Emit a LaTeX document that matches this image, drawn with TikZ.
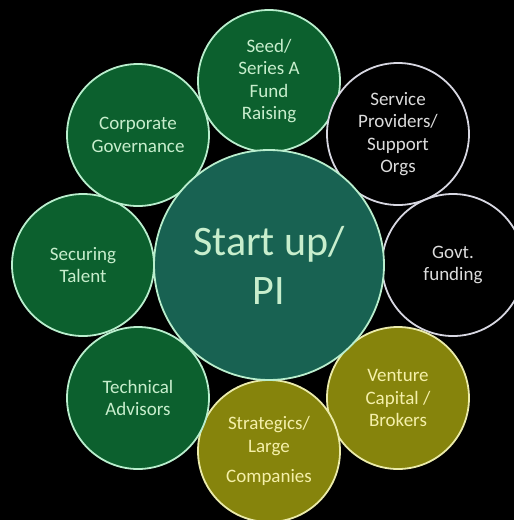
\documentclass[tikz,border=0pt]{standalone}
\usepackage{fontspec}
\setmainfont{Carlito}
\usepackage{tikz}

\definecolor{hubteal}{RGB}{24,98,82}
\definecolor{leafgreen}{RGB}{12,96,46}
\definecolor{leafolive}{RGB}{134,132,12}
\definecolor{rimmint}{RGB}{185,238,205}
\definecolor{rimgray}{RGB}{215,215,225}
\definecolor{rimyellow}{RGB}{235,235,170}
\definecolor{textmint}{RGB}{200,238,205}
\definecolor{textgray}{RGB}{220,220,220}
\definecolor{textyellow}{RGB}{245,240,170}

\begin{document}
\begin{tikzpicture}[x=1pt,y=-1pt,
    bubble/.style={circle,minimum size=142pt,inner sep=0pt,line width=1.8pt,
      align=center,font=\fontsize{19}{22.5}\selectfont},
    greenbubble/.style={bubble,fill=leafgreen,draw=rimmint,text=textmint},
    darkbubble/.style={bubble,fill=black,draw=rimgray,text=textgray},
    olivebubble/.style={bubble,fill=leafolive,draw=rimyellow,text=textyellow}]
    \fill[black] (0,0) rectangle (514,520);
    \useasboundingbox (0,0) rectangle (514,520);
    % outer ring of bubbles
    \node[greenbubble] (seed) at (269,81) {Seed/\\Series A\\Fund\\Raising};
    \node[darkbubble] (service) at (398,134) {Service\\Providers/\\Support\\Orgs};
    \node[darkbubble] (govt) at (453,265) {Govt.\\funding};
    \node[olivebubble] (venture) at (398,398) {Venture\\Capital /\\Brokers};
    \node[olivebubble] (strategics) at (269,451) {Strategics/\\Large\\[8pt]Companies};
    \node[greenbubble] (technical) at (138,398) {Technical\\Advisors};
    \node[greenbubble] (talent) at (83,265) {Securing\\Talent};
    \node[greenbubble] (governance) at (138,135) {Corporate\\Governance};
    % hub
    \node[circle,minimum size=230pt,inner sep=0pt,line width=1.8pt,
      fill=hubteal,draw=rimmint,text=textmint,align=center,
      font=\fontsize{42}{49}\selectfont] (startup) at (269,265) {Start up/\\PI};
\end{tikzpicture}
\end{document}
